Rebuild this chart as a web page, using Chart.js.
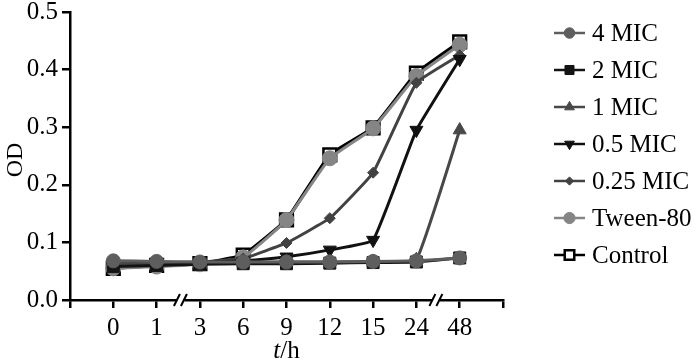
<!DOCTYPE html>
<html>
<head>
<meta charset="utf-8">
<script src="https://cdn.jsdelivr.net/npm/chart.js@4/dist/chart.umd.min.js"></script>
<style>
  html, body { margin: 0; padding: 0; background: #fff; }
  #wrap { width: 700px; height: 364px; }
</style>
</head>
<body>
<div id="wrap"><canvas id="myChart" width="700" height="364"></canvas></div>
<script>
// time points (h), evenly spaced on the axis with breaks
const timeLabels = ['0', '1', '3', '6', '9', '12', '15', '24', '48'];
const yTicks = [0, 0.1, 0.2, 0.3, 0.4, 0.5];

const mic4 = [0.068, 0.067, 0.066, 0.066, 0.066, 0.066, 0.067, 0.068, 0.073];
const mic2 = [0.058, 0.060, 0.062, 0.063, 0.063, 0.064, 0.065, 0.066, 0.073];
const mic1 = [0.062, 0.063, 0.064, 0.065, 0.066, 0.066, 0.067, 0.070, 0.295];
const mic05 = [0.062, 0.063, 0.065, 0.068, 0.075, 0.087, 0.104, 0.295, 0.418];
const mic025 = [0.063, 0.064, 0.066, 0.072, 0.099, 0.142, 0.221, 0.377, 0.425];
const tween80 = [0.055, 0.058, 0.062, 0.074, 0.139, 0.246, 0.298, 0.389, 0.443];
const control = [0.055, 0.060, 0.063, 0.078, 0.139, 0.252, 0.299, 0.394, 0.448];

const FONT = "'Liberation Serif', 'Times New Roman', serif";
const FS = 25;

function pts (arr) {
  return arr.map((v, i) => ({ x: i, y: v }));
}

function series (label, arr, color, style, radius, extra) {
  return Object.assign({
    label: label,
    data: pts(arr),
    borderColor: color,
    backgroundColor: color,
    borderWidth: 3,
    pointStyle: style,
    pointRadius: radius,
    pointBorderColor: color,
    pointBackgroundColor: color,
    pointBorderWidth: 1,
    tension: 0.1,
    legendRadius: radius * 0.75
  }, extra || {});
}

const datasets = [
  series('4 MIC', mic4, '#5e5e5e', 'circle', 7),
  series('2 MIC', mic2, '#141414', 'rect', 8.5),
  series('1 MIC', mic1, '#484848', 'triangle', 7.5),
  series('0.5 MIC', mic05, '#111111', 'triangle', 7.5, { pointRotation: 180 }),
  series('0.25 MIC', mic025, '#424242', 'rectRot', 5.5),
  series('Tween-80', tween80, '#858585', 'circle', 7.5),
  series('Control', control, '#000000', 'rect', 9, { pointBackgroundColor: '#ffffff', pointBorderWidth: 2.5, borderWidth: 3.5 })
];

// axis breaks and titles, legend on the right
const extras = {
  id: 'extras',
  afterDraw (chart) {
    const ctx = chart.ctx;
    const xs = chart.scales.x;
    const ys = chart.scales.y;
    const y0 = ys.getPixelForValue(0);
    ctx.save();
    [1.55, 7.45].forEach(v => {
      const px = xs.getPixelForValue(v);
      ctx.fillStyle = '#fff';
      ctx.fillRect(px - 4, y0 - 3, 8, 6);
      ctx.strokeStyle = '#000';
      ctx.lineWidth = 2;
      [-3.5, 3.5].forEach(d => {
        ctx.beginPath();
        ctx.moveTo(px + d - 3, y0 + 6);
        ctx.lineTo(px + d + 3, y0 - 6);
        ctx.stroke();
      });
    });

    // y title
    ctx.fillStyle = '#000';
    ctx.font = '24px ' + FONT;
    ctx.textAlign = 'center';
    ctx.textBaseline = 'middle';
    ctx.save();
    ctx.translate(16, 160);
    ctx.rotate(-Math.PI / 2);
    ctx.fillText('OD', 0, 0);
    ctx.restore();

    // x title: italic t + /h
    const cx = xs.getPixelForValue(4);
    ctx.textAlign = 'left';
    ctx.font = 'italic ' + FS + 'px ' + FONT;
    const tw = ctx.measureText('t').width;
    ctx.font = FS + 'px ' + FONT;
    const hw = ctx.measureText('/h').width;
    const sx = cx - (tw + hw) / 2;
    ctx.font = 'italic ' + FS + 'px ' + FONT;
    ctx.fillText('t', sx, 351);
    ctx.font = FS + 'px ' + FONT;
    ctx.fillText('/h', sx + tw, 351);

    // legend
    const lx1 = 554, lx2 = 585, tx = 592;
    chart.data.datasets.forEach((ds, i) => {
      const ly = 33 + i * 37;
      ctx.strokeStyle = ds.borderColor;
      ctx.lineWidth = 2.5;
      ctx.beginPath();
      ctx.moveTo(lx1, ly);
      ctx.lineTo(lx2, ly);
      ctx.stroke();
      ctx.fillStyle = ds.pointBackgroundColor;
      ctx.strokeStyle = ds.pointBorderColor;
      ctx.lineWidth = ds.pointBorderWidth;
      Chart.helpers.drawPoint(ctx, {
        pointStyle: ds.pointStyle,
        rotation: ds.pointRotation || 0,
        borderWidth: ds.pointBorderWidth,
        radius: ds.legendRadius
      }, (lx1 + lx2) / 2, ly);
      ctx.fillStyle = '#000';
      ctx.font = FS + 'px ' + FONT;
      ctx.textAlign = 'left';
      ctx.textBaseline = 'middle';
      ctx.fillText(ds.label, tx, ly + 1);
    });
    ctx.restore();
  }
};

new Chart(document.getElementById('myChart'), {
  type: 'line',
  data: { datasets: datasets },
  options: {
    responsive: false,
    animation: false,
    layout: { padding: { top: 12, right: 197, left: 0, bottom: 0 } },
    plugins: { legend: { display: false }, tooltip: { enabled: false } },
    scales: {
      x: {
        type: 'linear',
        min: -1,
        max: 9,
        afterFit (s) { s.height = 64; s.paddingLeft = 0; s.paddingRight = 0; },
        afterBuildTicks (s) {
          s.ticks = [];
          for (let i = -1; i <= 9; i++) s.ticks.push({ value: i });
        },
        border: { display: true, color: '#000', width: 2.5 },
        grid: { drawOnChartArea: false, drawTicks: true, tickLength: 8, color: '#000', lineWidth: 2.5 },
        ticks: {
          color: '#000',
          font: { family: FONT, size: FS },
          padding: 5,
          maxRotation: 0,
          autoSkip: false,
          callback: v => (v >= 0 && v < timeLabels.length) ? timeLabels[v] : ''
        }
      },
      y: {
        min: 0,
        max: 0.5,
        afterFit (s) { s.width = 70; s.paddingTop = 0; s.paddingBottom = 0; },
        afterBuildTicks (s) { s.ticks = yTicks.map(v => ({ value: v })); },
        border: { display: true, color: '#000', width: 2.5 },
        grid: { drawOnChartArea: false, drawTicks: true, tickLength: 8, color: '#000', lineWidth: 2.5 },
        ticks: {
          color: '#000',
          font: { family: FONT, size: FS },
          padding: 4,
          callback: v => v.toFixed(1)
        }
      }
    }
  },
  plugins: [extras]
});
</script>
</body>
</html>
